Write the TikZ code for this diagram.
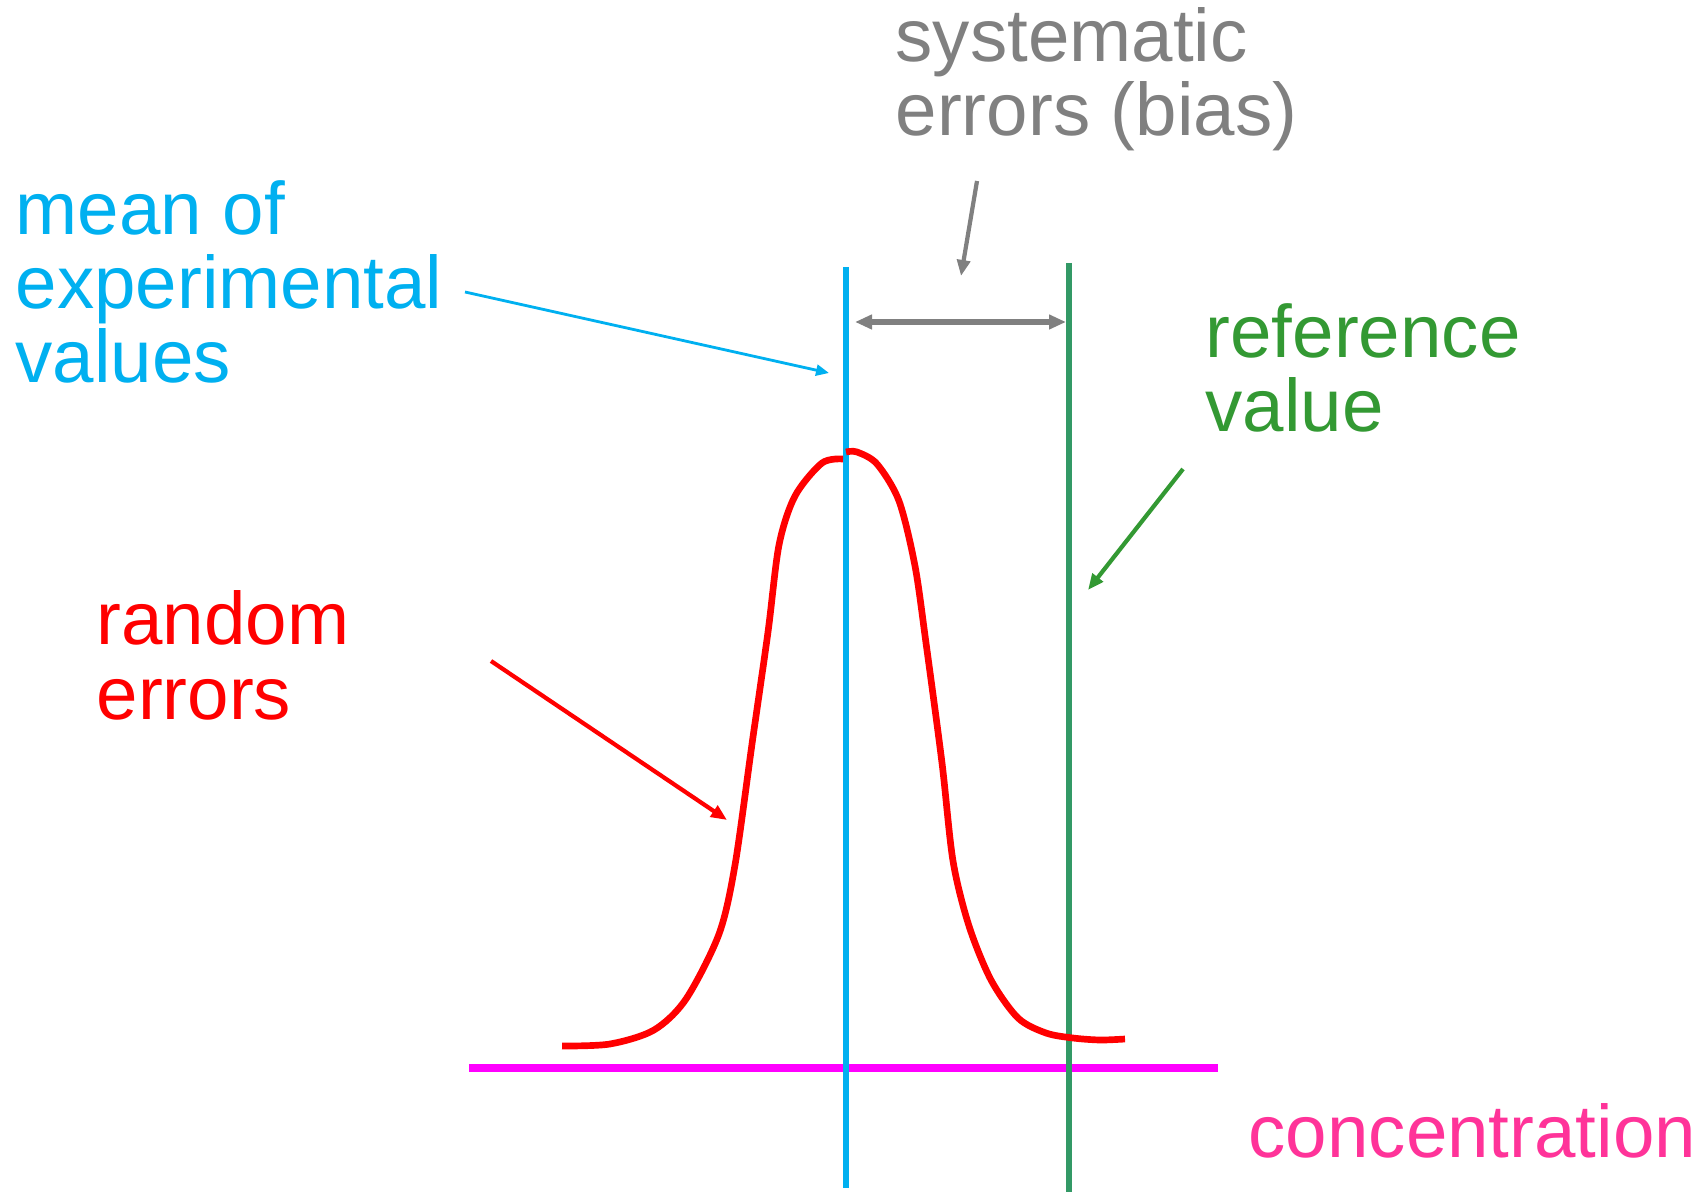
\documentclass[tikz,border=0pt]{standalone}
\usepackage{fontspec}
\setmainfont{Liberation Sans}
\usepackage{tikz}
\usetikzlibrary{arrows.meta,positioning}
\definecolor{meanblue}{RGB}{0,176,240}
\definecolor{refgreen}{RGB}{51,153,51}
\definecolor{refline}{RGB}{51,153,102}
\definecolor{biasgray}{RGB}{128,128,128}
\definecolor{axispink}{RGB}{255,0,255}
\definecolor{concpink}{RGB}{255,51,153}

\begin{document}
\begin{tikzpicture}[x=0.1mm, y=-0.1mm,
    every node/.style={inner sep=0pt, align=left, anchor=base west,
      font=\fontsize{21.2}{21.1}\selectfont},
    ptr/.style={-{Triangle[length=1.6mm,width=1.3mm]}}]
  \useasboundingbox (0,0) rectangle (1708,1192);

  % labels (base = baseline of the last line)
  \node[biasgray] (bias) at (895,136) {systematic\\errors (bias)};
  \node[meanblue] (mean) at (15,383) {mean of\\experimental\\values};
  \node[refgreen] (ref) at (1205,432) {reference\\value};
  \node[red] (rand) at (96,719) {random\\errors};
  \node[concpink] (conc) at (1248,1157) {concentration};

  % axis and the two vertical lines
  \draw[axispink, line width=2pt] (469,1068) -- (1218,1068);
  \draw[meanblue, line width=1.7pt] (846,267) -- (846,1188);
  \draw[refline, line width=1.7pt] (1069,263) -- (1069,1192);

  % distribution of results
  \draw[red, line width=1.9pt, line join=round] plot[smooth, tension=0.5] coordinates {
    (562,1046) (610,1044) (654,1030) (686,999) (719,934) (735,865)
    (752,744) (768,632) (779,545) (795,496) (822,463) (843,459)};
  \draw[red, line width=1.9pt, line join=round] plot[smooth, tension=0.5] coordinates {
    (846,452) (857,452) (877,464) (899,501) (915,566) (926,643)
    (942,763) (953,861) (969,926) (991,980) (1018,1018) (1046,1033)
    (1073,1038) (1100,1040) (1125,1039)};

  % arrows
  \coordinate (biasL) at (855,322);
  \coordinate (biasR) at (1066,322);
  \draw[biasgray, line width=1.6pt,
        {Triangle[length=1.7mm,width=1.4mm]}-{Triangle[length=1.7mm,width=1.4mm]}]
    (biasL) -- (biasR);
  \coordinate (biasT) at (977,181);
  \coordinate (biasH) at (961,276);
  \draw[biasgray, line width=1.2pt, ptr] (biasT) -- (biasH);

  \coordinate (meanT) at (465,292);
  \coordinate (meanH) at (829,373);
  \draw[meanblue, line width=0.8pt, -{Triangle[length=1.3mm,width=1.1mm]}] (meanT) -- (meanH);

  \coordinate (refT) at (1183,469);
  \coordinate (refH) at (1088,590);
  \draw[refgreen, line width=1.2pt, ptr] (refT) -- (refH);

  \coordinate (randT) at (491,661);
  \coordinate (randH) at (727,820);
  \draw[red, line width=1.2pt, ptr] (randT) -- (randH);
\end{tikzpicture}
\end{document}
